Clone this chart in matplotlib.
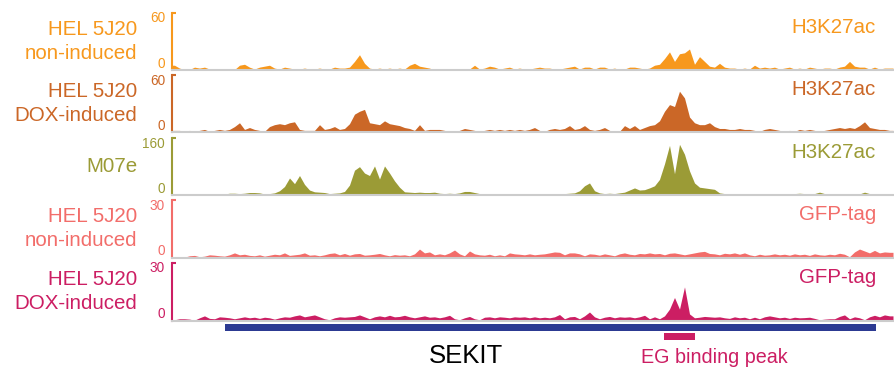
import numpy as np
import matplotlib.pyplot as plt
from matplotlib.patches import Rectangle

plt.rcParams['font.family'] = ['Liberation Sans', 'DejaVu Sans']

W, H = 894, 370          # figure size in pixels
BIN_KB = 0.5             # width of one coverage bin (kb)
N_BINS = 144

# coverage per 0.5 kb bin, one list per track
h3k27ac_hel_non = [
    5, 2, 0.5, 0.5, 3, 2, 3, 1, 1, 0.5, 1, 1,
    0.5, 5, 6, 3, 1, 3, 4, 5, 2, 1, 3, 2,
    1, 1, 2, 1, 1, 2, 1, 1, 3, 2, 2, 3,
    9, 16, 7, 2, 1, 2, 1, 2, 1, 2, 1, 5,
    7, 4, 3, 2, 0, 0, 0, 0, 1, 1, 1, 1,
    5, 1, 2, 4, 3, 1, 2, 3, 1, 2, 1, 1,
    2, 3, 2, 2, 1, 1, 2, 3, 4, 1, 3, 3,
    1, 3, 3, 1, 2, 0.5, 1, 3, 3, 2, 1, 2,
    5, 6, 12, 19, 9, 17, 18, 22, 6, 14, 9, 4,
    3, 7, 3, 2, 2, 1, 2, 1, 5, 2, 3, 2,
    3, 1, 2, 3, 1, 2, 1, 3, 2, 1, 2, 2,
    1, 3, 4, 9, 4, 3, 3, 1, 3, 1, 2, 2,
]
h3k27ac_hel_dox = [
    2, 2, 1, 2, 1, 2, 3, 1, 2, 3, 2, 3,
    6, 10, 3, 5, 3, 2, 1, 6, 8, 9, 8, 10,
    11, 3, 2, 2, 2, 8, 3, 4, 6, 3, 4, 9,
    19, 22, 24, 10, 9, 8, 12, 9, 8, 7, 5, 4,
    2, 8, 2, 3, 3, 3, 2, 0.5, 0.5, 2, 4, 3,
    2, 1, 2, 3, 2, 3, 2, 3, 2, 3, 2, 3,
    5, 2, 1, 3, 4, 3, 4, 7, 3, 4, 7, 3,
    2, 3, 5, 2, 1, 1, 7, 4, 7, 3, 5, 7,
    8, 12, 22, 29, 27, 43, 36, 16, 10, 8, 8, 10,
    6, 4, 4, 3, 3, 4, 3, 3, 2, 1, 3, 4,
    3, 2, 1, 2, 1, 3, 2, 3, 2, 1, 2, 3,
    4, 5, 4, 5, 4, 7, 11, 5, 4, 3, 3, 2,
]
h3k27ac_m07e = [
    0, 0, 0, 1, 3, 3, 3, 2, 3, 3, 3, 5,
    5, 4, 5, 7, 7, 6, 3, 4, 6, 12, 24, 48,
    32, 55, 30, 14, 9, 8, 7, 4, 5, 6, 10, 28,
    70, 80, 62, 55, 82, 45, 82, 62, 40, 22, 9, 8,
    7, 8, 7, 7, 8, 5, 4, 5, 4, 6, 10, 10,
    7, 4, 3, 3, 4, 3, 3, 4, 3, 4, 3, 4,
    3, 3, 4, 3, 4, 3, 4, 5, 6, 12, 26, 34,
    12, 6, 4, 5, 4, 6, 8, 14, 20, 14, 15, 20,
    26, 44, 88, 140, 60, 143, 115, 68, 34, 22, 20, 18,
    16, 6, 4, 4, 3, 4, 3, 4, 4, 3, 4, 3,
    4, 3, 4, 3, 4, 5, 4, 3, 4, 8, 4, 3,
    4, 3, 4, 3, 4, 3, 8, 4, 3, 4, 3, 3,
]
gfp_hel_non = [
    0.3, 0.3, 0.3, 1, 1.2, 0.5, 0.8, 1.5, 1.3, 1, 0.8, 1.5,
    2.5, 1.5, 1.8, 1.2, 1, 1.5, 0.8, 1.3, 1.8, 1.5, 2.5, 1.2,
    1.5, 1.8, 2.5, 1.3, 1.5, 1, 1.5, 2.2, 2.5, 1.5, 2.2, 1.3,
    2, 2.2, 1.3, 1.5, 1.8, 2.2, 1.5, 1, 1.6, 1.3, 1.5, 1,
    2, 4.5, 2.5, 3, 1.5, 2, 1.5, 2.5, 4, 2, 1, 3.5,
    2, 1.5, 1.3, 1.8, 1, 1.5, 1, 2.5, 2, 1.8, 1.5, 2,
    1.5, 1.8, 2, 2.5, 3, 2.8, 1.5, 2.5, 2.5, 2, 1, 2,
    1.8, 1.3, 2, 1.5, 1, 2, 2.5, 1.8, 1.5, 2.2, 2, 2.5,
    2, 2.2, 1.5, 2.3, 2.5, 2, 1.5, 2, 2.5, 3, 3.3, 2.2,
    2, 1.5, 2.3, 2, 2.5, 1.8, 2.5, 1.5, 1, 1.8, 1.3, 1.5,
    2, 1.5, 1.8, 1.3, 2, 1.5, 1.8, 1.2, 2, 1.5, 1.3, 1.8,
    1.5, 2.3, 1.8, 0.5, 3, 4.5, 3.5, 2.5, 3.8, 2.5, 3, 2.8,
]
gfp_hel_dox = [
    0.5, 1, 1, 0.8, 0.3, 1.5, 2.5, 1.2, 1, 2, 1.8, 1.5,
    1, 1.5, 2, 1.5, 1.8, 1.2, 1.8, 1.5, 0.8, 1.5, 2, 1.8,
    2.5, 3, 2, 2.5, 3, 2, 1, 0.5, 1.5, 2, 1.8, 2,
    2.2, 3, 2, 1, 2, 2.5, 2, 2.8, 2, 2.2, 2.8, 2,
    1.5, 2, 2.5, 1.8, 2, 1.5, 2, 2.8, 1, 0.5, 1.5, 2.2,
    1, 0.5, 1.8, 2, 1.5, 2, 1.8, 1.5, 2, 1.8, 2, 1.5,
    2, 1.5, 1.8, 1.5, 2, 3.2, 1, 2, 2.2, 1, 2.5, 4.5,
    2, 1, 1.8, 2.2, 1.5, 2, 1.8, 2, 1.5, 2, 2.8, 1,
    2, 1, 2.5, 6, 12, 6, 17.5, 3.5, 1.5, 1.8, 2.2, 2,
    1.8, 2, 1.5, 1.2, 2, 1.5, 1.8, 1, 1.8, 1, 2, 2.5,
    2, 1.5, 1.8, 1.2, 1.8, 1.5, 1.6, 1.8, 1.2, 0.5, 0.8, 1,
    1, 2.2, 3, 1, 2, 1.5, 0.5, 2, 2.8, 2, 3, 2.5,
]

sample_names = ["HEL 5J20\nnon-induced", "HEL 5J20\nDOX-induced", "M07e",
                "HEL 5J20\nnon-induced", "HEL 5J20\nDOX-induced"]
marks = ["H3K27ac", "H3K27ac", "H3K27ac", "GFP-tag", "GFP-tag"]
y_max = [60, 60, 160, 30, 30]
colors = ["#F7981D", "#CB6727", "#9B9B36", "#F26D6A", "#CC1E63"]
signals = [h3k27ac_hel_non, h3k27ac_hel_dox, h3k27ac_m07e, gfp_hel_non, gfp_hel_dox]

# gene model and binding peak (kb)
gene_name = "SEKIT"
gene_start, gene_end = 5.3, 70.4
peak_name = "EG binding peak"
peak_start, peak_end = 49.2, 52.3

# track geometry in pixels
x_left, x_right = 172, 893
track_top = [12.7, 75.0, 138.3, 200.0, 262.7]
track_base = [70.0, 132.3, 195.0, 257.7, 320.7]

x_end = N_BINS * BIN_KB + 0.1
centers = (np.arange(N_BINS) + 0.5) * BIN_KB


def fx(px):
    return px / W


def fy(py):
    return 1 - py / H


fig = plt.figure(figsize=(W / 100, H / 100), dpi=100)

for name, mark, ymax, col, sig, top, base in zip(sample_names, marks, y_max, colors,
                                                  signals, track_top, track_base):
    ax = fig.add_axes([fx(x_left), fy(base), (x_right - x_left) / W, (base - top) / H])
    xs = np.r_[0, centers, x_end]
    ys = np.r_[sig[0], sig, sig[-1]]
    ax.fill_between(xs, 0, ys, color=col, lw=0, zorder=2)
    ax.axhline(0, color="#cccccc", lw=1.5, clip_on=False, zorder=3)
    ax.set_xlim(0, x_end)
    ax.set_ylim(0, ymax)
    for s in ["top", "right", "bottom"]:
        ax.spines[s].set_visible(False)
    ax.spines["left"].set_color(col)
    ax.spines["left"].set_linewidth(1.5)
    ax.set_xticks([])
    ax.set_yticks([ymax])
    ax.tick_params(axis="y", direction="in", length=3, width=1.5, color=col, labelleft=False)
    ax.patch.set_alpha(0)

    # scale labels
    fig.text(fx(165), fy(top + 9.8), str(ymax), ha="right", va="baseline",
             fontsize=9.8, color=col)
    fig.text(fx(165), fy(base - 2.3), "0", ha="right", va="baseline",
             fontsize=9.8, color=col)
    # sample name and mark
    fig.text(fx(137), fy((top + base) / 2), name, ha="right", va="center",
             multialignment="right", linespacing=1.35, fontsize=14.8, color=col)
    fig.text(fx(876), fy(top + 20), mark, ha="right", va="baseline",
             fontsize=14.8, color=col)

# gene / peak annotation
ann = fig.add_axes([fx(x_left), 0, (x_right - x_left) / W, (H - 321) / H])
ann.set_xlim(0, x_end)
ann.set_ylim(H, 321)
ann.axis("off")
ann.add_patch(Rectangle((gene_start, 324), gene_end - gene_start, 6.7,
                        color="#2C3A92", lw=0))
ann.add_patch(Rectangle((peak_start, 332.7), peak_end - peak_start, 7.3,
                        color=colors[4], lw=0))
ann.text(29.4, 363, gene_name, ha="center", va="baseline", fontsize=18.5, color="black")
ann.text(54.25, 363, peak_name, ha="center", va="baseline", fontsize=14.2, color=colors[4])

fig.savefig("out.png", dpi=100)
